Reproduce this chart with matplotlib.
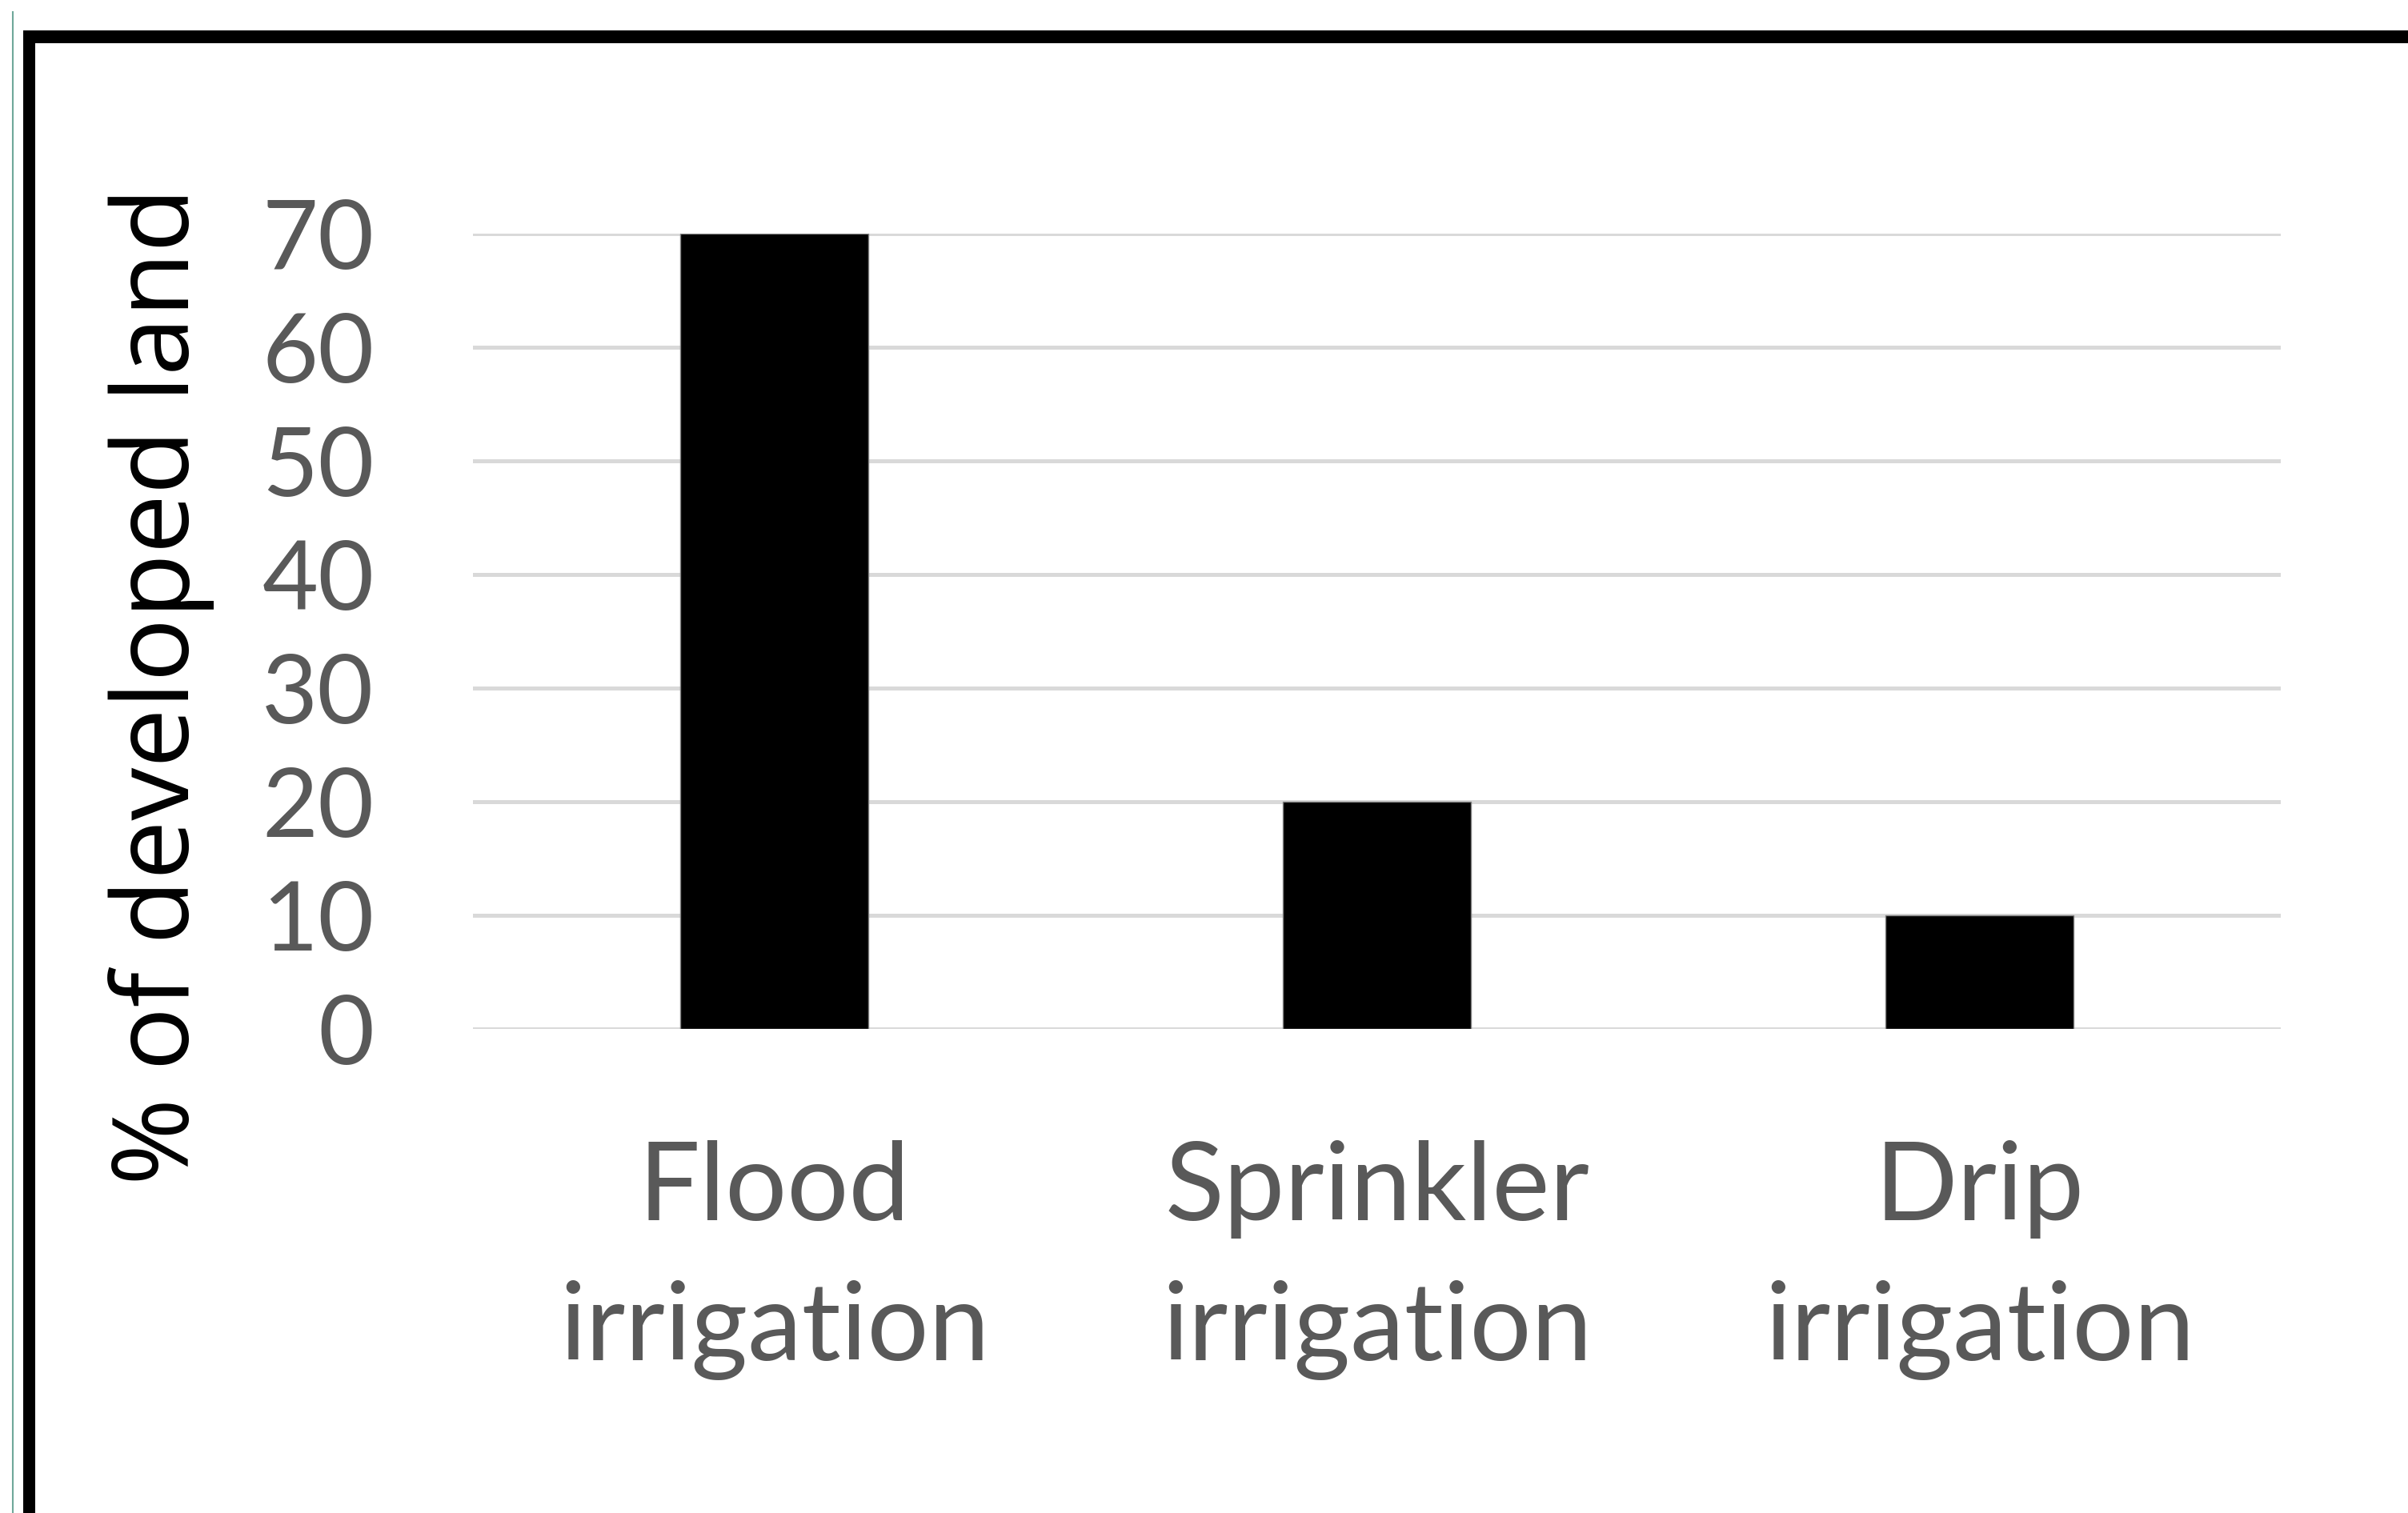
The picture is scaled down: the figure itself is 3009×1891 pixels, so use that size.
import matplotlib.pyplot as plt
from matplotlib.patches import Rectangle
from matplotlib.lines import Line2D

categories = ["Flood\nirrigation", "Sprinkler\nirrigation", "Drip\nirrigation"]
values = [70, 20, 10]
yticks = [0, 10, 20, 30, 40, 50, 60, 70]
ylabel = "% of developed land"

W, H = 3009, 1891
fig = plt.figure(figsize=(W / 100, H / 100), dpi=100)
fig.patch.set_facecolor("white")

# frame from the screenshot: thin teal line + thick black border (top and left)
fig.add_artist(Line2D([16 / W, 16 / W], [0, 1 - 15 / H], transform=fig.transFigure,
                      color="#6fa89a", linewidth=1.5))
fig.add_artist(Rectangle((29 / W, 0), 15 / W, 1 - 38 / H, transform=fig.transFigure,
                         facecolor="black", edgecolor="none"))
fig.add_artist(Rectangle((29 / W, 1 - 54 / H), 1 - 29 / W, 16 / H, transform=fig.transFigure,
                         facecolor="black", edgecolor="none"))

ax = fig.add_axes([591 / W, (H - 1286) / H, 2259 / W, 994 / H])
x = range(len(categories))
ax.bar(x, values, width=0.313, color="black", edgecolor="#808080", linewidth=1, zorder=3)

ax.set_xlim(-0.5, len(categories) - 0.5)
ax.set_ylim(0, 70)
ax.set_yticks(yticks)
ax.set_xticks(list(x))
ax.set_xticklabels(categories, fontfamily="Lato", fontsize=98, color="#595959",
                   linespacing=1.52)
ax.set_yticklabels([str(t) for t in yticks], fontfamily="Lato", fontsize=87, color="#595959")
ax.tick_params(axis="y", length=0, pad=89)
ax.tick_params(axis="x", length=0, pad=100)

ax.grid(axis="y", color="#d9d9d9", linewidth=3.6, zorder=0)
ax.set_axisbelow(True)
for s in ax.spines.values():
    s.set_visible(False)

fig.text(202 / W, 1 - 857 / H, ylabel, rotation=90, ha="center", va="center",
         fontfamily="Open Sans", fontsize=95, color="black")

fig.savefig("out.png", dpi=100, facecolor="white")
